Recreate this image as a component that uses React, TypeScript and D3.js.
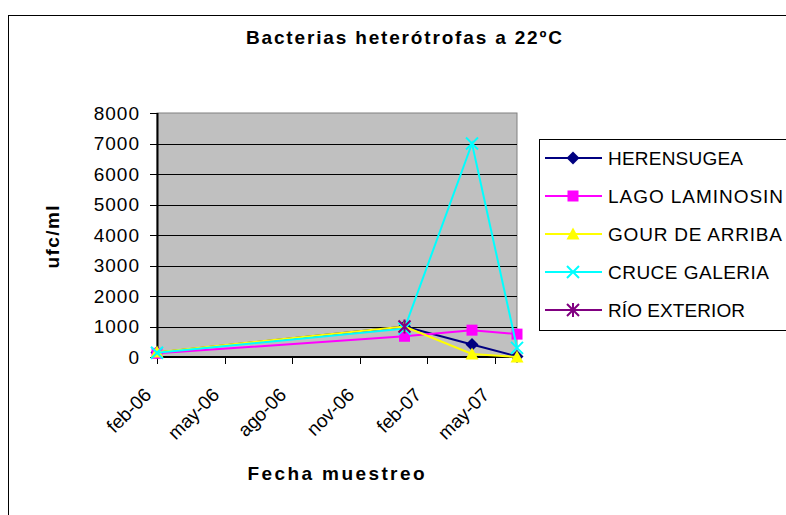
import React from "react";
import * as d3 from "d3";

const sampleDates = ["2006-02-01", "2007-01-01", "2007-04-01", "2007-06-01"];
const herensugea = [150, 1000, 410, 20];
const lagoLaminosin = [120, 680, 880, 750];
const gourDeArriba = [160, 1000, 100, 0];
const cruceGaleria = [140, 930, 7000, 300];
const rioExterior: (number | null)[] = [null, 1000, null, null];
const seriesNames = ["HERENSUGEA", "LAGO LAMINOSIN", "GOUR DE ARRIBA", "CRUCE GALERIA", "RÍO EXTERIOR"];
const seriesColors = ["#000080", "#FF00FF", "#FFFF00", "#00FFFF", "#800080"];
const seriesMarkers = ["diamond", "square", "triangle", "x", "asterisk"];
const xTickDates = ["2006-02-01", "2006-05-01", "2006-08-01", "2006-11-01", "2007-02-01", "2007-05-01"];
const xTickLabels = ["feb-06", "may-06", "ago-06", "nov-06", "feb-07", "may-07"];
const xDomainDates = ["2006-02-01", "2007-06-01"];
const yTicks = [0, 1000, 2000, 3000, 4000, 5000, 6000, 7000, 8000];

const allSeries = [herensugea, lagoLaminosin, gourDeArriba, cruceGaleria, rioExterior];

// layout: rendered widths of legend labels in the reference
const legendTextWidths = [135, 175, 174, 161, 137];

const FONT = "'Liberation Sans', Arial, sans-serif";

function Marker({ kind, color, x, y }: { kind: string; color: string; x: number; y: number }) {
  const t = `translate(${x},${y})`;
  if (kind === "diamond") return <path transform={t} d="M0,-6.5L6.5,0L0,6.5L-6.5,0Z" fill={color} />;
  if (kind === "square") return <rect transform={t} x={-5.5} y={-5.5} width={11} height={11} fill={color} />;
  if (kind === "triangle") return <path transform={t} d="M0,-6.5L6.5,5.5L-6.5,5.5Z" fill={color} />;
  if (kind === "x")
    return <path transform={t} d="M-6,-6L6,6M-6,6L6,-6" stroke={color} strokeWidth={2} fill="none" />;
  return <path transform={t} d="M-6,-6L6,6M-6,6L6,-6M0,-7L0,7" stroke={color} strokeWidth={2} fill="none" />;
}

export default function App() {
  const W = 786, H = 515;
  const parse = (s: string) => new Date(s + "T00:00:00Z");
  const start = parse(xDomainDates[0]);
  const monthIdx = (s: string) => d3.utcMonth.count(start, parse(s));
  const x = d3.scaleLinear().domain([0, monthIdx(xDomainDates[1])]).range([157, 517]);
  const y = d3.scaleLinear().domain([0, 8000]).range([357, 113]);
  const [x0, x1] = x.range();
  const [yb, yt] = y.range();

  const line = d3
    .line<number | null>()
    .defined((d) => d != null)
    .x((_, i) => x(monthIdx(sampleDates[i])))
    .y((d) => y(d as number));

  const legendY = d3.scaleLinear().domain([0, 4]).range([158, 310]);

  return (
    <svg width={W} height={H} style={{ position: "absolute", left: 0, top: 0, background: "#fff" }} fontFamily={FONT}>
      <rect x={8.5} y={15.5} width={800} height={520} fill="#fff" stroke="#000" />
      <text x={404} y={44} fontSize={19} fontWeight="bold" textAnchor="middle" textLength={316} lengthAdjust="spacing">
        Bacterias heterótrofas a 22ºC
      </text>

      {/* plot area */}
      <rect x={x0} y={yt} width={x1 - x0} height={yb - yt} fill="#C0C0C0" stroke="#808080" />
      {yTicks.filter((v) => v > 0 && v < 8000).map((v) => (
        <line key={v} x1={x0} x2={x1} y1={Math.round(y(v)) + 0.5} y2={Math.round(y(v)) + 0.5} stroke="#000" />
      ))}
      <line x1={x0 + 0.5} x2={x0 + 0.5} y1={yt} y2={yb} stroke="#000" strokeWidth={2} />
      <line x1={x0} x2={x1} y1={yb} y2={yb} stroke="#000" strokeWidth={2} />
      {yTicks.map((v) => (
        <g key={v}>
          <line x1={x0 - 7} x2={x0} y1={Math.round(y(v)) + 0.5} y2={Math.round(y(v)) + 0.5} stroke="#000" />
          <text x={140} y={y(v)} dy="0.36em" fontSize={19} letterSpacing={1} textAnchor="end">
            {v}
          </text>
        </g>
      ))}
      {xTickDates.map((d, i) => {
        const xx = Math.round(x(monthIdx(d))) + 0.5;
        return (
          <g key={d}>
            <line x1={xx} x2={xx} y1={yb} y2={yb + 7} stroke="#000" />
            <text transform={`translate(${xx - 5},${396}) rotate(-45)`} fontSize={19} textAnchor="end">
              {xTickLabels[i]}
            </text>
          </g>
        );
      })}

      {/* series */}
      {allSeries.map((s, si) => (
        <g key={si}>
          <path d={line(s) || ""} fill="none" stroke={seriesColors[si]} strokeWidth={2} />
          {s.map((v, i) =>
            v == null ? null : (
              <Marker key={i} kind={seriesMarkers[si]} color={seriesColors[si]} x={x(monthIdx(sampleDates[i]))} y={y(v)} />
            )
          )}
        </g>
      ))}

      {/* axis titles */}
      <text x={336} y={480} fontSize={19} fontWeight="bold" textAnchor="middle" textLength={177} lengthAdjust="spacing">
        Fecha muestreo
      </text>
      <text transform="translate(59,237) rotate(-90)" fontSize={19} fontWeight="bold" textAnchor="middle" textLength={63} lengthAdjust="spacing">
        ufc/ml
      </text>

      {/* legend */}
      <rect x={539.5} y={139.5} width={300} height={191} fill="#fff" stroke="#000" />
      {seriesNames.map((n, i) => {
        const ly = legendY(i);
        return (
          <g key={n}>
            <line x1={545} x2={602} y1={ly} y2={ly} stroke={seriesColors[i]} strokeWidth={2} />
            <Marker kind={seriesMarkers[i]} color={seriesColors[i]} x={573} y={ly} />
            <text x={608} y={ly} dy="0.36em" fontSize={19} textLength={legendTextWidths[i]} lengthAdjust="spacing">
              {n}
            </text>
          </g>
        );
      })}
    </svg>
  );
}
